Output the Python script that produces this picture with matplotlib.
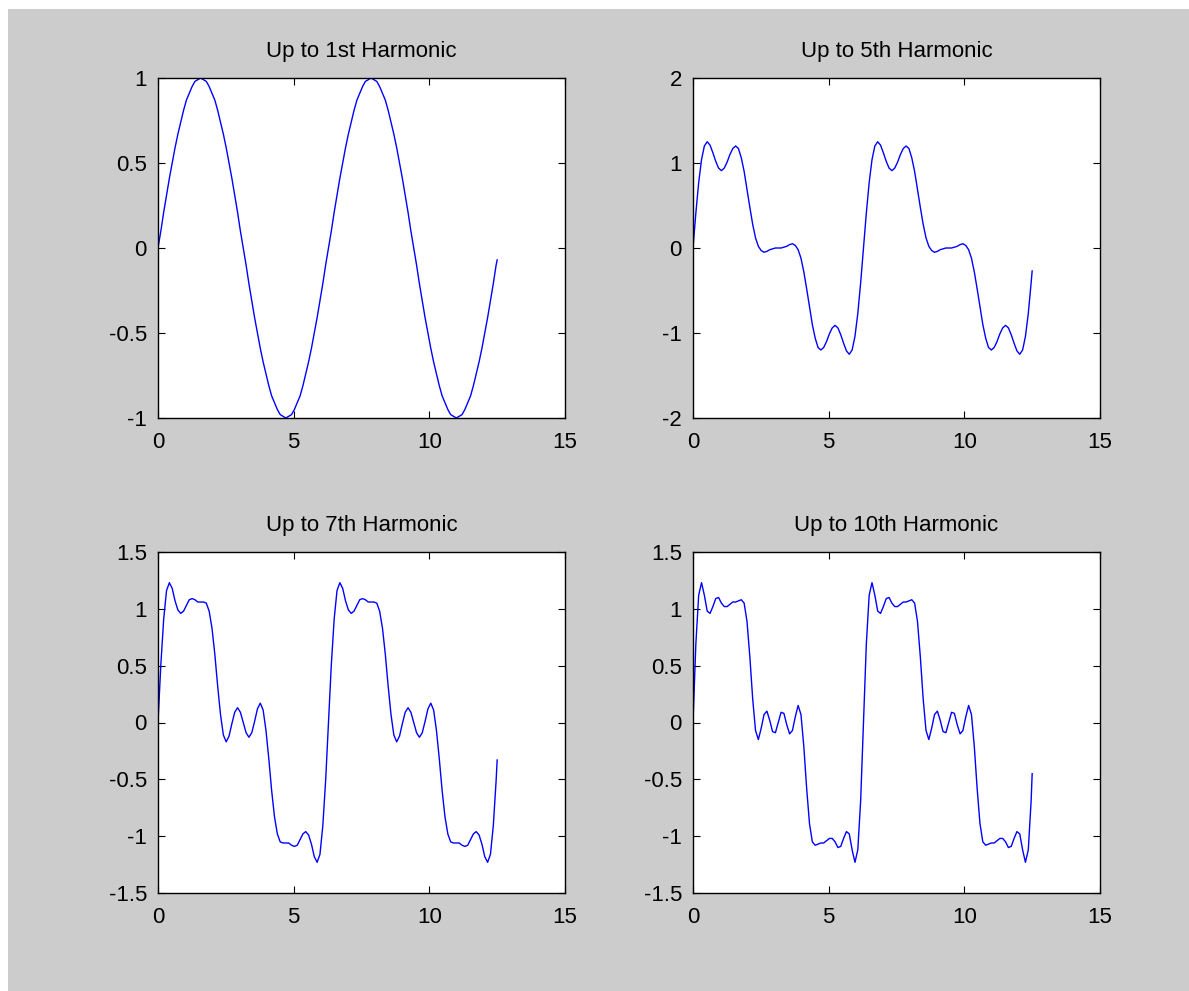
import numpy as np
import matplotlib.pyplot as plt
from matplotlib.patches import Rectangle

plt.rcParams['font.family'] = ['Liberation Sans', 'DejaVu Sans']
plt.rcParams['axes.unicode_minus'] = False

titles = ['Up to 1st Harmonic', 'Up to 5th Harmonic',
          'Up to 7th Harmonic', 'Up to 10th Harmonic']

# sample times: 6 degree steps over two periods, last sample at 12.5
t = np.append(np.arange(120) * np.pi / 30, 12.5)

h1 = [0, .10, .21, .31, .41, .50, .59, .67, .74, .81,
      .87, .91, .95, .98, .99, 1.00, .99, .98, .95, .91,
      .87, .81, .74, .67, .59, .50, .41, .31, .21, .10,
      0, -.10, -.21, -.31, -.41, -.50, -.59, -.67, -.74, -.81,
      -.87, -.91, -.95, -.98, -.99, -1.00, -.99, -.98, -.95, -.91,
      -.87, -.81, -.74, -.67, -.59, -.50, -.41, -.31, -.21, -.10,
      0, .10, .21, .31, .41, .50, .59, .67, .74, .81,
      .87, .91, .95, .98, .99, 1.00, .99, .98, .95, .91,
      .87, .81, .74, .67, .59, .50, .41, .31, .21, .10,
      0, -.10, -.21, -.31, -.41, -.50, -.59, -.67, -.74, -.81,
      -.87, -.91, -.95, -.98, -.99, -1.00, -.99, -.98, -.95, -.91,
      -.87, -.81, -.74, -.67, -.59, -.50, -.41, -.31, -.21, -.10,
      -.07]

h5 = [0, .41, .77, 1.04, 1.20, 1.25, 1.21, 1.12, 1.02, .94,
      .91, .94, 1.01, 1.10, 1.17, 1.20, 1.17, 1.06, .90, .69,
      .48, .28, .12, .02, -.03, -.05, -.04, -.02, -.01, .00,
      0, .00, .01, .02, .04, .05, .03, -.02, -.12, -.28,
      -.48, -.69, -.90, -1.06, -1.17, -1.20, -1.17, -1.10, -1.01, -.94,
      -.91, -.94, -1.02, -1.12, -1.21, -1.25, -1.20, -1.04, -.77, -.41,
      0, .41, .77, 1.04, 1.20, 1.25, 1.21, 1.12, 1.02, .94,
      .91, .94, 1.01, 1.10, 1.17, 1.20, 1.17, 1.06, .90, .69,
      .48, .28, .12, .02, -.03, -.05, -.04, -.02, -.01, .00,
      0, .00, .01, .02, .04, .05, .03, -.02, -.12, -.28,
      -.48, -.69, -.90, -1.06, -1.17, -1.20, -1.17, -1.10, -1.01, -.94,
      -.91, -.94, -1.02, -1.12, -1.21, -1.25, -1.20, -1.04, -.77, -.41,
      -.27]

h7 = [0, .51, .91, 1.16, 1.23, 1.18, 1.07, .99, .96, .98,
      1.03, 1.08, 1.09, 1.08, 1.06, 1.06, 1.06, 1.05, .98, .83,
      .60, .32, .07, -.11, -.17, -.12, -.01, .09, .13, .09,
      0, -.09, -.13, -.09, .01, .12, .17, .11, -.07, -.32,
      -.60, -.83, -.98, -1.05, -1.06, -1.06, -1.06, -1.08, -1.09, -1.08,
      -1.03, -.98, -.96, -.99, -1.07, -1.18, -1.23, -1.16, -.91, -.51,
      0, .51, .91, 1.16, 1.23, 1.18, 1.07, .99, .96, .98,
      1.03, 1.08, 1.09, 1.08, 1.06, 1.06, 1.06, 1.05, .98, .83,
      .60, .32, .07, -.11, -.17, -.12, -.01, .09, .13, .09,
      0, -.09, -.13, -.09, .01, .12, .17, .11, -.07, -.32,
      -.60, -.83, -.98, -1.05, -1.06, -1.06, -1.06, -1.08, -1.09, -1.08,
      -1.03, -.98, -.96, -.99, -1.07, -1.18, -1.23, -1.16, -.91, -.51,
      -.33]

h10 = [0, .69, 1.12, 1.23, 1.12, .98, .96, 1.02, 1.09, 1.10,
       1.05, 1.02, 1.02, 1.04, 1.06, 1.06, 1.07, 1.08, 1.05, .89,
       .58, .21, -.07, -.15, -.05, .07, .10, .02, -.08, -.09,
       0, .09, .08, -.02, -.10, -.07, .05, .15, .07, -.21,
       -.58, -.89, -1.05, -1.08, -1.07, -1.06, -1.06, -1.04, -1.02, -1.02,
       -1.05, -1.10, -1.09, -1.02, -.96, -.98, -1.12, -1.23, -1.12, -.69,
       0, .69, 1.12, 1.23, 1.12, .98, .96, 1.02, 1.09, 1.10,
       1.05, 1.02, 1.02, 1.04, 1.06, 1.06, 1.07, 1.08, 1.05, .89,
       .58, .21, -.07, -.15, -.05, .07, .10, .02, -.08, -.09,
       0, .09, .08, -.02, -.10, -.07, .05, .15, .07, -.21,
       -.58, -.89, -1.05, -1.08, -1.07, -1.06, -1.06, -1.04, -1.02, -1.02,
       -1.05, -1.10, -1.09, -1.02, -.96, -.98, -1.12, -1.23, -1.12, -.69,
       -.45]

series = [h1, h5, h7, h10]
ylims = [(-1, 1), (-2, 2), (-1.5, 1.5), (-1.5, 1.5)]
yticks = [[-1, -0.5, 0, 0.5, 1],
          [-2, -1, 0, 1, 2],
          [-1.5, -1, -0.5, 0, 0.5, 1, 1.5],
          [-1.5, -1, -0.5, 0, 0.5, 1, 1.5]]
xticks = [0, 5, 10, 15]

W, H = 1189, 991
fig = plt.figure(figsize=(W / 100, H / 100), dpi=100)
fig.patch.set_facecolor('white')
# grey figure area with a thin white strip on the left and top
fig.add_artist(Rectangle((8 / W, 0), 1, 1 - 9 / H, transform=fig.transFigure,
                         facecolor='#cccccc', edgecolor='none', zorder=-10))

# axes boxes in pixels: left, top, right, bottom
boxes = [(158, 78, 565, 418), (693, 78, 1100, 418),
         (158, 552, 565, 893), (693, 552, 1100, 893)]

for i in range(4):
    l, tp, r, b = boxes[i]
    ax = fig.add_axes([l / W, 1 - b / H, (r - l) / W, (b - tp) / H])
    ax.plot(t, series[i], color='blue', lw=1.0)
    ax.set_xlim(0, 15)
    ax.set_ylim(ylims[i])
    ax.set_xticks(xticks)
    ax.set_xticklabels([str(v) for v in xticks])
    ax.set_yticks(yticks[i])
    ax.set_yticklabels([f'{v:g}' for v in yticks[i]])
    ax.tick_params(direction='in', top=True, right=True, length=5, width=0.8,
                   labelsize=16, pad=8, colors='black')
    ax.tick_params(axis='x', pad=10)
    for s in ax.spines.values():
        s.set_linewidth(1.0)
    ax.set_title(titles[i], fontsize=16, pad=15)

fig.savefig('out.png', dpi=100, facecolor=fig.get_facecolor())
